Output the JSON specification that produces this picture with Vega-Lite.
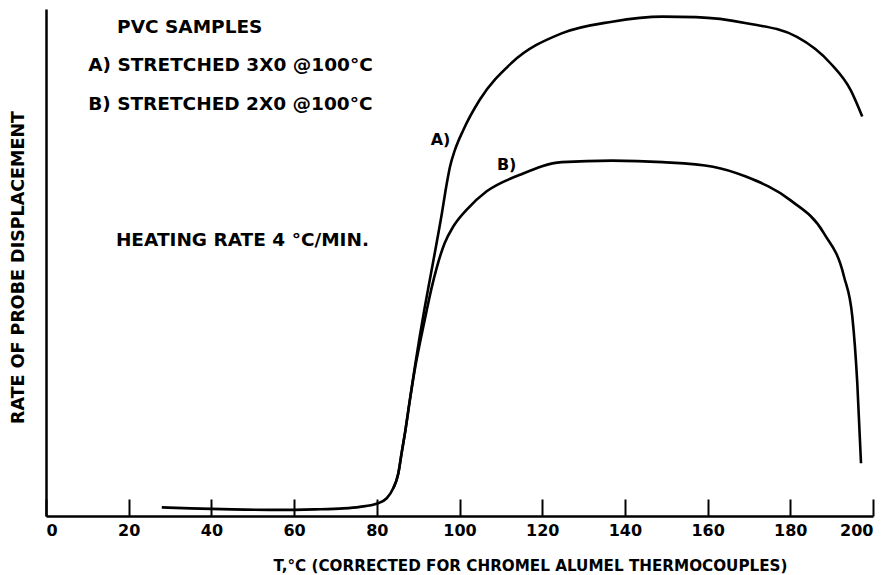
{
  "$schema": "https://vega.github.io/schema/vega-lite/v6.json",
  "width": 827,
  "height": 507,
  "autosize": {"type": "none"},
  "padding": {"left": 46, "top": 9, "right": 15, "bottom": 59},
  "background": "white",
  "config": {
    "view": {"stroke": null},
    "font": "DejaVu Sans",
    "axis": {"grid": false, "domainColor": "black", "domainWidth": 2.5, "tickColor": "black", "labelColor": "black", "titleColor": "black", "labelFont": "DejaVu Sans", "titleFont": "DejaVu Sans", "labelFontWeight": "bold", "titleFontWeight": "bold"}
  },
  "datasets": {
    "curves": [
      {"series": "A", "t": 28, "rate": 1.7},
      {"series": "A", "t": 35, "rate": 1.5},
      {"series": "A", "t": 45, "rate": 1.3},
      {"series": "A", "t": 55, "rate": 1.2},
      {"series": "A", "t": 65, "rate": 1.3},
      {"series": "A", "t": 72, "rate": 1.5},
      {"series": "A", "t": 75.9, "rate": 1.8},
      {"series": "A", "t": 79.9, "rate": 2.4},
      {"series": "A", "t": 82.4, "rate": 3.5},
      {"series": "A", "t": 84.0, "rate": 5.5},
      {"series": "A", "t": 85.2, "rate": 8.4},
      {"series": "A", "t": 86.0, "rate": 12.4},
      {"series": "A", "t": 86.8, "rate": 16.3},
      {"series": "A", "t": 88.0, "rate": 22.9},
      {"series": "A", "t": 89.2, "rate": 29.4},
      {"series": "A", "t": 90.4, "rate": 35.5},
      {"series": "A", "t": 91.6, "rate": 41.2},
      {"series": "A", "t": 93.6, "rate": 50.0},
      {"series": "A", "t": 95.7, "rate": 59.5},
      {"series": "A", "t": 96.9, "rate": 65.5},
      {"series": "A", "t": 97.7, "rate": 68.9},
      {"series": "A", "t": 98.9, "rate": 72.2},
      {"series": "A", "t": 100.9, "rate": 76.1},
      {"series": "A", "t": 104.9, "rate": 82.1},
      {"series": "A", "t": 112.5, "rate": 89.3},
      {"series": "A", "t": 124.7, "rate": 95.2},
      {"series": "A", "t": 136.9, "rate": 97.5},
      {"series": "A", "t": 149.1, "rate": 98.5},
      {"series": "A", "t": 157.2, "rate": 98.4},
      {"series": "A", "t": 169.4, "rate": 97.2},
      {"series": "A", "t": 181.6, "rate": 94.5},
      {"series": "A", "t": 189.7, "rate": 89.3},
      {"series": "A", "t": 194.6, "rate": 84.0},
      {"series": "A", "t": 197.4, "rate": 78.8},
      {"series": "B", "t": 84.0, "rate": 5.5},
      {"series": "B", "t": 85.2, "rate": 8.4},
      {"series": "B", "t": 86.0, "rate": 12.4},
      {"series": "B", "t": 86.8, "rate": 16.3},
      {"series": "B", "t": 88.0, "rate": 22.9},
      {"series": "B", "t": 89.3, "rate": 29.4},
      {"series": "B", "t": 90.7, "rate": 35.2},
      {"series": "B", "t": 92.0, "rate": 40.3},
      {"series": "B", "t": 93.2, "rate": 44.8},
      {"series": "B", "t": 94.5, "rate": 49.0},
      {"series": "B", "t": 96.4, "rate": 53.8},
      {"series": "B", "t": 98.5, "rate": 57.1},
      {"series": "B", "t": 101.7, "rate": 60.4},
      {"series": "B", "t": 106.5, "rate": 64.0},
      {"series": "B", "t": 114.6, "rate": 67.3},
      {"series": "B", "t": 124.7, "rate": 69.8},
      {"series": "B", "t": 136.9, "rate": 70.1},
      {"series": "B", "t": 149.1, "rate": 69.8},
      {"series": "B", "t": 161.3, "rate": 68.9},
      {"series": "B", "t": 169.4, "rate": 66.9},
      {"series": "B", "t": 180.0, "rate": 62.3},
      {"series": "B", "t": 188.1, "rate": 55.8},
      {"series": "B", "t": 193.0, "rate": 47.2},
      {"series": "B", "t": 195.0, "rate": 39.3},
      {"series": "B", "t": 196.2, "rate": 26.2},
      {"series": "B", "t": 197.1, "rate": 10.4}
    ],
    "notes": [
      {"t": 17.2, "rate": 96.4, "label": "PVC  SAMPLES"},
      {"t": 10.2, "rate": 89.0, "label": "A) STRETCHED 3X0 @100°C"},
      {"t": 10.2, "rate": 81.3, "label": "B) STRETCHED 2X0 @100°C"},
      {"t": 16.9, "rate": 54.4, "label": "HEATING RATE  4 °C/MIN."}
    ],
    "tags": [
      {"t": 95.4, "rate": 74.2, "label": "A)"},
      {"t": 111.4, "rate": 69.2, "label": "B)"}
    ]
  },
  "layer": [
    {
      "data": {"name": "curves"},
      "mark": {"type": "line", "interpolate": "monotone", "stroke": "black", "strokeWidth": 2.6},
      "encoding": {
        "x": {"field": "t", "type": "quantitative", "scale": {"domain": [0, 200], "nice": false},
          "axis": {"values": [0, 20, 40, 60, 80, 100, 120, 140, 160, 180, 200], "tickSize": -17, "tickWidth": 2, "labelPadding": 31, "labelFontSize": 16, "labelBaseline": "middle",
            "title": "T,°C (CORRECTED FOR CHROMEL ALUMEL THERMOCOUPLES)", "titleFontSize": 15.2, "titleX": 484, "titleY": 49, "titleBaseline": "middle", "titleAlign": "center"}},
        "y": {"field": "rate", "type": "quantitative", "scale": {"domain": [0, 100], "nice": false},
          "axis": {"ticks": false, "labels": false, "title": "RATE OF PROBE DISPLACEMENT", "titleFontSize": 17.5, "titleX": -28, "titleY": 258, "titleAngle": -90, "titleAlign": "center", "titleBaseline": "middle"}},
        "detail": {"field": "series", "type": "nominal"}
      }
    },
    {
      "data": {"name": "notes"},
      "mark": {"type": "text", "align": "left", "baseline": "middle", "fontSize": 18.5, "fontWeight": "bold", "color": "black", "font": "DejaVu Sans"},
      "encoding": {
        "x": {"field": "t", "type": "quantitative"},
        "y": {"field": "rate", "type": "quantitative"},
        "text": {"field": "label"}
      }
    },
    {
      "data": {"name": "tags"},
      "mark": {"type": "text", "align": "center", "baseline": "middle", "fontSize": 16, "fontWeight": "bold", "color": "black", "font": "DejaVu Sans"},
      "encoding": {
        "x": {"field": "t", "type": "quantitative"},
        "y": {"field": "rate", "type": "quantitative"},
        "text": {"field": "label"}
      }
    }
  ]
}
